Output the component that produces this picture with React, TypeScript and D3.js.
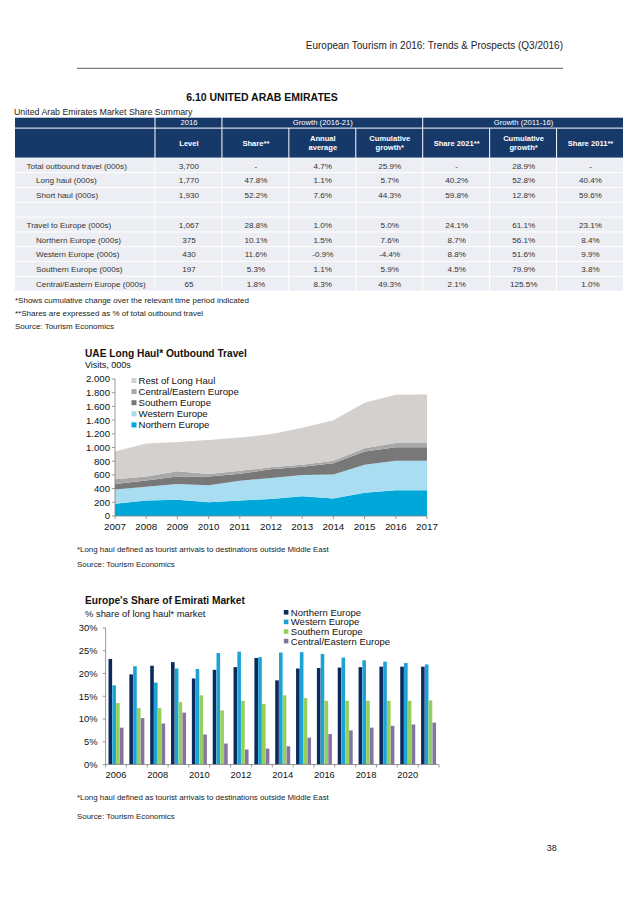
import React from "react";
import * as d3 from "d3";

// ---------- table data ----------
const tableGroups = ["2016", "Growth (2016-21)", "Growth (2011-16)"];
const tableGroupSpans = [1, 3, 3];
const tableColumns = [
	"Level",
	"Share**",
	"Annual\naverage",
	"Cumulative\ngrowth*",
	"Share 2021**",
	"Cumulative\ngrowth*",
	"Share 2011**",
];
const rowLabels = [
	"Total outbound travel (000s)",
	"Long haul (000s)",
	"Short haul (000s)",
	"",
	"Travel to Europe (000s)",
	"Northern Europe (000s)",
	"Western Europe (000s)",
	"Southern Europe (000s)",
	"Central/Eastern Europe (000s)",
];
const rowIndent = [0, 1, 1, 0, 0, 1, 1, 1, 1];
const rowValues = [
	["3,700", "-", "4.7%", "25.9%", "-", "28.9%", "-"],
	["1,770", "47.8%", "1.1%", "5.7%", "40.2%", "52.8%", "40.4%"],
	["1,930", "52.2%", "7.6%", "44.3%", "59.8%", "12.8%", "59.6%"],
	["", "", "", "", "", "", ""],
	["1,067", "28.8%", "1.0%", "5.0%", "24.1%", "61.1%", "23.1%"],
	["375", "10.1%", "1.5%", "7.6%", "8.7%", "56.1%", "8.4%"],
	["430", "11.6%", "-0.9%", "-4.4%", "8.8%", "51.6%", "9.9%"],
	["197", "5.3%", "1.1%", "5.9%", "4.5%", "79.9%", "3.8%"],
	["65", "1.8%", "8.3%", "49.3%", "2.1%", "125.5%", "1.0%"],
];
const tableNotes = [
	"*Shows cumulative change over the relevant time period indicated",
	"**Shares are expressed as % of total outbound travel",
	"Source: Tourism Economics",
];

// ---------- area chart data (visits, 000s) ----------
const areaYears = [2007, 2008, 2009, 2010, 2011, 2012, 2013, 2014, 2015, 2016, 2017];
const areaSeries = [
	"Northern Europe",
	"Western Europe",
	"Southern Europe",
	"Central/Eastern Europe",
	"Rest of Long Haul",
];
const northernVisits = [180, 226, 236, 202, 228, 248, 290, 257, 340, 375, 375];
const westernVisits = [208, 200, 232, 246, 288, 307, 310, 348, 410, 430, 430];
const southernVisits = [80, 92, 107, 127, 99, 127, 120, 165, 193, 197, 197];
const centralVisits = [67, 57, 77, 38, 47, 28, 30, 38, 47, 65, 65];
const restVisits = [405, 483, 430, 497, 483, 482, 540, 590, 665, 703, 705];
const areaTicks = [0, 200, 400, 600, 800, 1000, 1200, 1400, 1600, 1800, 2000];

// ---------- bar chart data (% share of long haul) ----------
const barYears = [2006, 2007, 2008, 2009, 2010, 2011, 2012, 2013, 2014, 2015, 2016, 2017, 2018, 2019, 2020, 2021];
const barSeries = ["Northern Europe", "Western Europe", "Southern Europe", "Central/Eastern Europe"];
const northernShare = [23.2, 19.8, 21.7, 22.5, 18.9, 20.8, 21.4, 23.4, 18.5, 21.1, 21.2, 21.3, 21.4, 21.5, 21.5, 21.5];
const westernShare = [17.4, 21.6, 18.0, 21.1, 21.0, 24.5, 24.8, 23.6, 24.6, 24.7, 24.3, 23.5, 22.9, 22.6, 22.3, 22.0];
const southernShare = [13.5, 12.4, 12.4, 13.7, 15.2, 11.9, 14.0, 13.3, 15.2, 14.6, 14.0, 14.0, 14.0, 14.0, 14.0, 14.1];
const centralShare = [8.1, 10.2, 9.0, 11.4, 6.6, 4.6, 3.3, 3.5, 4.0, 5.9, 6.7, 7.5, 8.1, 8.5, 8.8, 9.2];
const barTicks = [0, 5, 10, 15, 20, 25, 30];
const barLabelYears = [2006, 2008, 2010, 2012, 2014, 2016, 2018, 2020];

const FONT = "'Liberation Sans', Arial, sans-serif";
const areaColors = ["#00a7d9", "#a9ddf2", "#787878", "#a8a8a8", "#d3d0cd"];
const barColors = ["#0c2b5c", "#1ba3d6", "#96d05a", "#8573a3"];
const NAVY = "#173969";
const ROW_BG = "#eceef3";

const dotFormat = d3.formatLocale({
	decimal: ",",
	thousands: ".",
	grouping: [3],
	currency: ["", ""],
}).format(",");

function Table() {
	const left = 15;
	const labelRight = 155.5;
	const right = 624;
	const h1Top = 117.7;
	const h1Bottom = 127.6;
	const h2Bottom = 157.6;
	const bodyTop = 158.4;
	const rowH = 14.8;
	const col = d3.scaleBand<number>().domain(d3.range(tableColumns.length)).range([labelRight, right]);
	const row = d3.scaleBand<number>().domain(d3.range(rowLabels.length)).range([bodyTop, bodyTop + rowH * rowLabels.length]);
	const groupStarts = d3.cumsum([0, ...tableGroupSpans]);

	return (
		<g fontFamily={FONT}>
			<text x={262} y={100.5} textAnchor="middle" fontSize={10.5} fontWeight="bold" fill="#111">
				6.10 UNITED ARAB EMIRATES
			</text>
			<text x={left - 1} y={114.8} fontSize={8.8} fill="#222">
				United Arab Emirates Market Share Summary
			</text>
			{/* header row 1 */}
			<rect x={left} y={h1Top} width={labelRight - left - 1} height={h1Bottom - h1Top} fill={NAVY} />
			{tableGroups.map((g, i) => {
				const x0 = col(groupStarts[i])!;
				const x1 = col(groupStarts[i + 1] - 1)! + col.bandwidth();
				return (
					<g key={g}>
						<rect x={x0} y={h1Top} width={x1 - x0 - 1} height={h1Bottom - h1Top} fill={NAVY} />
						<text x={(x0 + x1) / 2} y={(h1Top + h1Bottom) / 2 + 2.7} textAnchor="middle" fontSize={7.7} fill="#fff">
							{g}
						</text>
					</g>
				);
			})}
			{/* header row 2 */}
			<rect x={left} y={h1Bottom + 1} width={labelRight - left - 1} height={h2Bottom - h1Bottom - 1} fill={NAVY} />
			{tableColumns.map((c, i) => {
				const lines = c.split("\n");
				const cx = col(i)! + col.bandwidth() / 2;
				const cy = (h1Bottom + 1 + h2Bottom) / 2;
				return (
					<g key={i}>
						<rect x={col(i)!} y={h1Bottom + 1} width={col.bandwidth() - 1} height={h2Bottom - h1Bottom - 1} fill={NAVY} />
						{lines.map((l, j) => (
							<text
								key={j}
								x={cx}
								y={cy + 2.7 + (j - (lines.length - 1) / 2) * 9}
								textAnchor="middle"
								fontSize={7.6}
								fontWeight="bold"
								fill="#fff"
							>
								{l}
							</text>
						))}
					</g>
				);
			})}
			{/* body */}
			{rowLabels.map((label, r) => {
				const y0 = row(r)!;
				const cy = y0 + rowH / 2 + 2.8;
				return (
					<g key={r}>
						<rect x={left} y={y0} width={labelRight - left - 1} height={rowH - 1} fill={ROW_BG} />
						<text x={left + 11.5 + rowIndent[r] * 9.5} y={cy} fontSize={8.1} fill="#333">
							{label}
						</text>
						{rowValues[r].map((v, i) => (
							<g key={i}>
								<rect x={col(i)!} y={y0} width={col.bandwidth() - 1} height={rowH - 1} fill={ROW_BG} />
								<text x={col(i)! + col.bandwidth() / 2} y={cy} textAnchor="middle" fontSize={8.1} fill="#333">
									{v}
								</text>
							</g>
						))}
					</g>
				);
			})}
			{tableNotes.map((n, i) => (
				<text key={i} x={left} y={302.8 + i * 13} fontSize={8} fill="#222">
					{n}
				</text>
			))}
		</g>
	);
}

function AreaChart() {
	const x = d3.scaleLinear().domain([2007, 2017]).range([115, 427]);
	const y = d3.scaleLinear().domain([0, 2000]).range([516, 379]);
	const rows = areaYears.map((year, i) => ({
		year,
		"Northern Europe": northernVisits[i],
		"Western Europe": westernVisits[i],
		"Southern Europe": southernVisits[i],
		"Central/Eastern Europe": centralVisits[i],
		"Rest of Long Haul": restVisits[i],
	}));
	const stacked = d3.stack<any>().keys(areaSeries)(rows);
	const area = d3
		.area<any>()
		.x((d) => x(d.data.year))
		.y0((d) => y(d[0]))
		.y1((d) => y(d[1]));
	const legendOrder = [...areaSeries].reverse();

	return (
		<g fontFamily={FONT} fill="#111">
			<text x={85} y={357} fontSize={10.2} fontWeight="bold">
				UAE Long Haul* Outbound Travel
			</text>
			<text x={85} y={367.5} fontSize={9}>
				Visits, 000s
			</text>
			{stacked.map((s, i) => (
				<path key={s.key} d={area(s) || ""} fill={areaColors[i]} />
			))}
			{/* y axis */}
			<line x1={x(2007)} x2={x(2007)} y1={y(2000)} y2={y(0)} stroke="#808080" strokeWidth={0.8} />
			{areaTicks.map((t) => (
				<g key={t}>
					<line x1={x(2007) - 3} x2={x(2007)} y1={y(t)} y2={y(t)} stroke="#808080" strokeWidth={0.8} />
					<text x={110} y={y(t) + 3.4} textAnchor="end" fontSize={9.6}>
						{dotFormat(t)}
					</text>
				</g>
			))}
			{/* x axis */}
			<line x1={x(2007)} x2={x(2017)} y1={y(0)} y2={y(0)} stroke="#808080" strokeWidth={0.8} />
			{areaYears.map((yr) => (
				<g key={yr}>
					<line x1={x(yr)} x2={x(yr)} y1={y(0)} y2={y(0) + 3} stroke="#808080" strokeWidth={0.8} />
					<text x={x(yr)} y={529.6} textAnchor="middle" fontSize={9.8}>
						{yr}
					</text>
				</g>
			))}
			{/* legend */}
			{legendOrder.map((name, i) => {
				const ly = 380.5 + i * 11.1;
				return (
					<g key={name}>
						<rect x={131.5} y={ly - 2.5} width={5} height={5} fill={areaColors[areaSeries.indexOf(name)]} />
						<text x={138.5} y={ly + 3.4} fontSize={9.6}>
							{name}
						</text>
					</g>
				);
			})}
			<text x={77} y={551.8} fontSize={7.9} fill="#222">
				*Long haul defined as tourist arrivals to destinations outside Middle East
			</text>
			<text x={77} y={567.2} fontSize={7.9} fill="#222">
				Source: Tourism Economics
			</text>
		</g>
	);
}

function BarChart() {
	const x0 = d3.scaleBand<number>().domain(barYears).range([105.6, 439]).padding(0);
	const x1 = d3
		.scaleBand<string>()
		.domain(barSeries)
		.range([0, x0.bandwidth()])
		.paddingInner(0.05)
		.paddingOuter(0.77);
	const y = d3.scaleLinear().domain([0, 30]).range([764.5, 628]);
	const values = [northernShare, westernShare, southernShare, centralShare];

	return (
		<g fontFamily={FONT} fill="#111">
			<text x={85} y={604.4} fontSize={10.2} fontWeight="bold">
				Europe's Share of Emirati Market
			</text>
			<text x={85} y={617.4} fontSize={9.4}>
				% share of long haul* market
			</text>
			{barYears.map((yr, i) => (
				<g key={yr}>
					{barSeries.map((s, k) => (
						<rect
							key={s}
							x={x0(yr)! + x1(s)!}
							y={y(values[k][i])}
							width={x1.bandwidth()}
							height={y(0) - y(values[k][i])}
							fill={barColors[k]}
						/>
					))}
				</g>
			))}
			{/* y axis */}
			<line x1={105.6} x2={105.6} y1={y(30)} y2={y(0)} stroke="#808080" strokeWidth={0.8} />
			{barTicks.map((t) => (
				<g key={t}>
					<line x1={102.6} x2={105.6} y1={y(t)} y2={y(t)} stroke="#808080" strokeWidth={0.8} />
					<text x={97.5} y={y(t) + 3.4} textAnchor="end" fontSize={9.4}>
						{t}%
					</text>
				</g>
			))}
			{/* x axis */}
			<line x1={105.6} x2={439} y1={y(0)} y2={y(0)} stroke="#808080" strokeWidth={0.8} />
			{[...barYears, null].map((yr, i) => {
				const bx = yr === null ? 439 : x0(yr)!;
				return <line key={i} x1={bx} x2={bx} y1={y(0)} y2={y(0) + 3} stroke="#808080" strokeWidth={0.8} />;
			})}
			{barLabelYears.map((yr) => (
				<text key={yr} x={x0(yr)! + x0.bandwidth() / 2} y={777.6} textAnchor="middle" fontSize={9.4}>
					{yr}
				</text>
			))}
			{/* legend */}
			{barSeries.map((s, i) => {
				const ly = 612.3 + i * 9.6;
				return (
					<g key={s}>
						<rect x={283.8} y={ly - 2.3} width={4.6} height={4.6} fill={barColors[i]} />
						<text x={290.8} y={ly + 3.4} fontSize={9.5}>
							{s}
						</text>
					</g>
				);
			})}
			<text x={77} y={799.5} fontSize={7.9} fill="#222">
				*Long haul defined as tourist arrivals to destinations outside Middle East
			</text>
			<text x={77} y={818.8} fontSize={7.9} fill="#222">
				Source: Tourism Economics
			</text>
		</g>
	);
}

export default function App() {
	return (
		<svg
			width={638}
			height={903}
			viewBox="0 0 638 903"
			style={{ position: "absolute", left: 0, top: 0, background: "#fff" }}
		>
			<rect width={638} height={903} fill="#fff" />
			<text x={563} y={49} textAnchor="end" fontFamily={FONT} fontSize={10} fill="#222">
				European Tourism in 2016: Trends &amp; Prospects (Q3/2016)
			</text>
			<line x1={77} x2={563} y1={68.3} y2={68.3} stroke="#333" strokeWidth={0.8} />
			<Table />
			<AreaChart />
			<BarChart />
			<text x={551.7} y={850.5} textAnchor="middle" fontFamily={FONT} fontSize={9} fill="#222">
				38
			</text>
		</svg>
	);
}
